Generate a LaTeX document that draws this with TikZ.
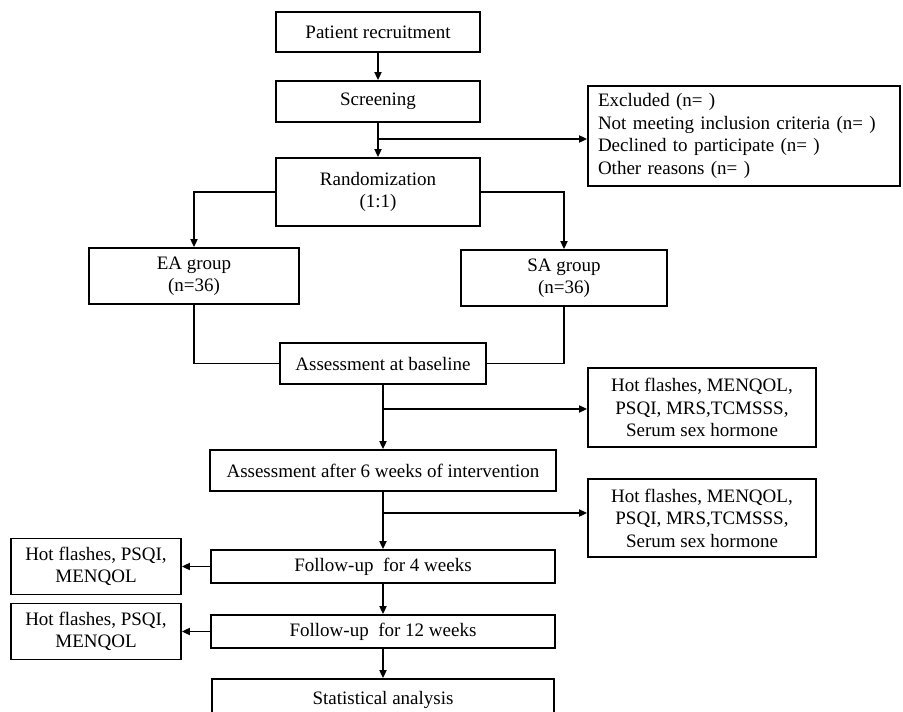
\documentclass[tikz,border=0pt]{standalone}
\usepackage{fontspec}
\setmainfont{Liberation Serif}
\usetikzlibrary{arrows.meta}
\begin{document}
\begin{tikzpicture}[x=1pt,y=-1pt,
  box/.style={draw=black, line width=1.8pt, fill=white, inner sep=0pt, align=center,
    font=\fontsize{19}{22.5}\selectfont},
  conn/.style={line width=1.8pt, draw=black},
  arr/.style={conn, -{Triangle[length=8pt,width=7pt]}}]
\useasboundingbox (0,0) rectangle (903,712);
\clip (0,0) rectangle (903,712);
\node[box, minimum width=204pt, minimum height=40pt] (rec) at (378,32) {Patient recruitment};
\node[box, minimum width=204pt, minimum height=41pt] (scr) at (378,101.5) {Screening};
\node[box, minimum width=204pt, minimum height=68pt] (rnd) at (378,192) {Randomization\\(1:1)};
\node[box, text width=292pt, inner xsep=10pt, minimum height=100pt, align=left] (exc) at (744,136)
  {Excluded (n= )\\Not meeting inclusion criteria (n= )\\Declined to participate (n= )\\Other reasons (n= )};
\node[box, minimum width=210pt, minimum height=56pt] (ea) at (194,276) {EA group\\(n=36)};
\node[box, minimum width=206pt, minimum height=56pt] (sa) at (564,278) {SA group\\(n=36)};
\node[box, minimum width=206pt, minimum height=41pt] (base) at (383,363.5) {Assessment at baseline};
\node[box, minimum width=228pt, minimum height=79pt] (hf1) at (702,407.5) {Hot flashes, MENQOL,\\PSQI, MRS,TCMSSS,\\Serum sex hormone};
\node[box, minimum width=346pt, minimum height=41pt] (a6) at (383,470.5) {Assessment after 6 weeks of intervention};
\node[box, minimum width=228pt, minimum height=78pt] (hf2) at (702,518) {Hot flashes, MENQOL,\\PSQI, MRS,TCMSSS,\\Serum sex hormone};
\node[box, minimum width=344pt, minimum height=33pt] (fu4) at (383,566.5) {Follow-up\ \ for 4 weeks};
\node[box, minimum width=170pt, minimum height=56pt] (l1) at (96,566.5) {Hot flashes, PSQI,\\MENQOL};
\node[box, minimum width=344pt, minimum height=33pt] (fu12) at (383,631.5) {Follow-up\ \ for 12 weeks};
\node[box, minimum width=170pt, minimum height=56pt] (l2) at (96,631.5) {Hot flashes, PSQI,\\MENQOL};
\node[box, minimum width=342pt, minimum height=42pt] (stat) at (383,700) {Statistical analysis};
\coordinate (b1) at (378,139);
\coordinate (b2) at (383,409);
\coordinate (b3) at (383,513);
\draw[arr] (rec.south) -- (scr.north);
\draw[arr] (scr.south) -- (rnd.north);
\draw[arr] (b1) -- (b1 -| exc.west);
\draw[arr] (rnd.west) -| (ea.north);
\draw[arr] (rnd.east) -| (sa.north);
\draw[conn] (ea.south) |- (base.west);
\draw[conn] (sa.south) |- (base.east);
\draw[arr] (base.south) -- (a6.north);
\draw[arr] (b2) -- (b2 -| hf1.west);
\draw[arr] (a6.south) -- (fu4.north);
\draw[arr] (b3) -- (b3 -| hf2.west);
\draw[arr] (fu4.west) -- (l1.east);
\draw[arr] (fu4.south) -- (fu12.north);
\draw[arr] (fu12.west) -- (l2.east);
\draw[arr] (fu12.south) -- (stat.north);
\end{tikzpicture}
\end{document}
